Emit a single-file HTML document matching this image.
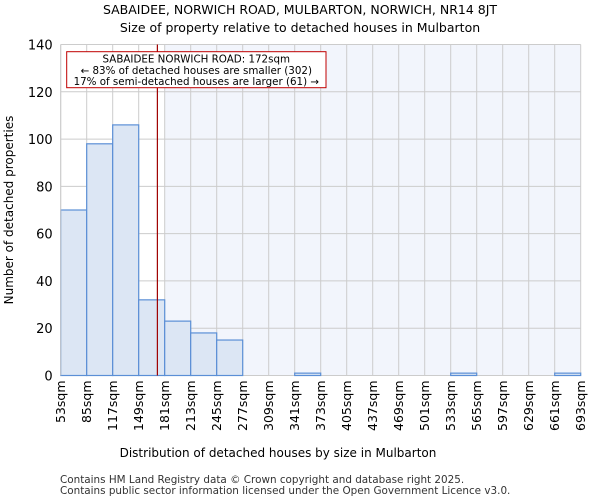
<!DOCTYPE html>
<html><head><meta charset="utf-8"><style>
body{margin:0;background:#fff;font-family:"DejaVu Sans","Liberation Sans",sans-serif;}
</style></head><body>
<svg width="600" height="500" xmlns="http://www.w3.org/2000/svg" id="svg" font-family="DejaVu Sans, Liberation Sans, sans-serif">
<text x="300" y="14" text-anchor="middle" font-size="12.5">SABAIDEE, NORWICH ROAD, MULBARTON, NORWICH, NR14 8JT</text>
<text x="300" y="32" text-anchor="middle" font-size="12.5">Size of property relative to detached houses in Mulbarton</text>
<g id="plot"></g>
<text x="278" y="457" text-anchor="middle" font-size="12">Distribution of detached houses by size in Mulbarton</text>
<text transform="translate(13,210) rotate(-90)" text-anchor="middle" font-size="12">Number of detached properties</text>
<text x="60" y="483" font-size="10.4" fill="#333">Contains HM Land Registry data © Crown copyright and database right 2025.</text>
<text x="60" y="494" font-size="10.4" fill="#333">Contains public sector information licensed under the Open Government Licence v3.0.</text>
</svg>
<script>
const binStarts=[53,85,117,149,181,213,245,277,309,341,373,405,437,469,501,533,565,597,629,661];
const counts=[70,98,106,32,23,18,15,0,0,1,0,0,0,0,0,1,0,0,0,1];
const yTicks=[0,20,40,60,80,100,120,140];
const xTickLabels=["53sqm","85sqm","117sqm","149sqm","181sqm","213sqm","245sqm","277sqm","309sqm","341sqm","373sqm","405sqm","437sqm","469sqm","501sqm","533sqm","565sqm","597sqm","629sqm","661sqm","693sqm"];
const subjectSize=172;
const binW=32,xMin=53,xMax=693,yMax=140;
const L=60.7,R=580.7,T=44.5,B=375.5;
const xs=v=>L+(v-xMin)/(xMax-xMin)*(R-L);
const ys=v=>B-v/yMax*(B-T);
const NS="http://www.w3.org/2000/svg";
const g=document.getElementById('plot');
function mk(t,a,p){const e=document.createElementNS(NS,t);for(const k in a)e.setAttribute(k,a[k]);(p||g).appendChild(e);return e;}
const shadeStart=binStarts.find(s=>s>subjectSize);
let r=mk('rect',{x:xs(shadeStart),y:T,width:R-xs(shadeStart),height:B-T,fill:'#f2f5fc'});


yTicks.forEach(t=>{let l=mk('line',{x1:L,x2:R,y1:ys(t),y2:ys(t),stroke:'#ccc','stroke-width':1});


let tx=mk('text',{x:L-8,y:ys(t)+5,'text-anchor':'end','font-size':13});tx.textContent=t;

});
xTickLabels.forEach((lab,i)=>{const v=xMin+i*binW;let l=mk('line',{x1:xs(v),x2:xs(v),y1:T,y2:B,stroke:'#ccc','stroke-width':1});


let tx=mk('text',{transform:`translate(${xs(v)+4.5},${B+5}) rotate(-90)`,'text-anchor':'end','font-size':12.5});tx.textContent=lab;

});
counts.forEach((c,i)=>{if(c<=0)return;let b=mk('rect',{x:xs(binStarts[i]),y:ys(c),width:xs(binStarts[i]+binW)-xs(binStarts[i]),height:B-ys(c),fill:'#dce6f4',stroke:'#5b8fd6','stroke-width':1.2});

});
let ax=mk('line',{x1:L,x2:L,y1:T,y2:B,stroke:'#ccc'});


let sl=mk('line',{x1:xs(subjectSize),x2:xs(subjectSize),y1:T,y2:B,stroke:'#a00000','stroke-width':1.2});


let box=mk('rect',{x:66.7,y:51.7,width:259.3,height:36,fill:'#fff',stroke:'#c00000','stroke-width':1});


["SABAIDEE NORWICH ROAD: 172sqm","← 83% of detached houses are smaller (302)","17% of semi-detached houses are larger (61) →"].forEach((s,i)=>{let t=mk('text',{x:196.3,y:62.5+i*11.3,'text-anchor':'middle','font-size':10.3});t.textContent=s;

});
</script>
</body></html>
